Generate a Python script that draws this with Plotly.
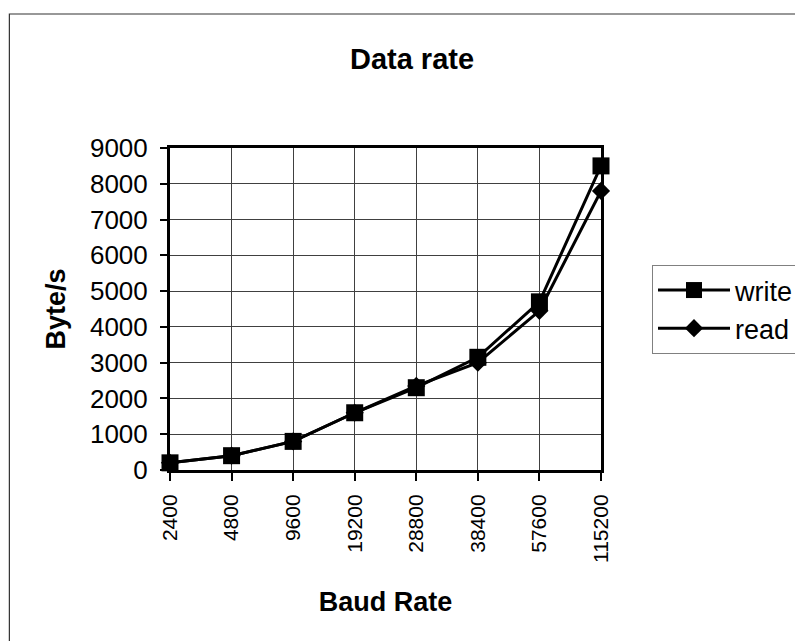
import plotly.graph_objects as go

baud_rates = ["2400", "4800", "9600", "19200", "28800", "38400", "57600", "115200"]
write_rate = [200, 400, 800, 1600, 2300, 3150, 4700, 8500]
read_rate = [200, 400, 800, 1600, 2350, 3000, 4450, 7800]
y_ticks = [0, 1000, 2000, 3000, 4000, 5000, 6000, 7000, 8000, 9000]

W, H = 803, 641
OFF = 8  # page body margin offset
L, R, T, B = 170 - OFF, 602 - OFF, 148 - OFF, 470 - OFF

def px_x(p):
    return (p - OFF - L) / (R - L)

def px_y(p):
    return (B - (p - OFF)) / (B - T)

font = "Liberation Sans, Arial, sans-serif"

fig = go.Figure()
fig.add_trace(go.Scatter(
    x=baud_rates, y=write_rate, name="write", mode="lines+markers",
    line=dict(color="black", width=3),
    marker=dict(symbol="square", size=17, color="black"),
    cliponaxis=False,
))
fig.add_trace(go.Scatter(
    x=baud_rates, y=read_rate, name="read", mode="lines+markers",
    line=dict(color="black", width=3),
    marker=dict(symbol="diamond", size=14, color="black"),
    cliponaxis=False,
))

fig.update_layout(
    width=W, height=H,
    margin=dict(l=L, r=W - R, t=T, b=H - B, pad=0),
    paper_bgcolor="white", plot_bgcolor="white",
    font=dict(family=font, color="black"),
    title=dict(text="<b>Data rate</b>", x=(412 - OFF) / W, y=1 - (59 - OFF) / H,
               xref="container", yref="container",
               xanchor="center", yanchor="middle",
               font=dict(size=29, family=font, color="black")),
    showlegend=True,
    legend=dict(x=px_x(652), y=px_y(265), xanchor="left", yanchor="top",
                bordercolor="#808080", borderwidth=1, bgcolor="white",
                itemwidth=72,
                font=dict(size=27, family=font, color="black")),
    xaxis=dict(
        type="category", range=[0, len(baud_rates) - 1],
        tickvals=baud_rates, ticktext=baud_rates,
        tickangle=-90, ticks="outside", ticklen=8, tickwidth=1.5, tickcolor="black",
        ticklabelstandoff=5,
        tickfont=dict(size=21, family=font),
        showgrid=True, gridcolor="#404040", gridwidth=1,
        showline=True, linecolor="black", linewidth=3, mirror=True,
        title=dict(text="<b>Baud Rate</b>", font=dict(size=27, family=font), standoff=31),
        zeroline=False,
    ),
    yaxis=dict(
        range=[0, 9000], tickvals=y_ticks, ticktext=[str(v) for v in y_ticks],
        ticks="outside", ticklen=7, tickwidth=1.5, tickcolor="black",
        ticklabelstandoff=7,
        tickfont=dict(size=26, family=font),
        showgrid=True, gridcolor="#404040", gridwidth=1,
        showline=True, linecolor="black", linewidth=3, mirror=True,
        title=dict(text="<b>Byte/s</b>", font=dict(size=27, family=font), standoff=17),
        zeroline=False,
    ),
)

# outer chart-area border (only top and left are visible in the reference)
fig.add_shape(type="rect", xref="paper", yref="paper",
              x0=px_x(9), y0=px_y(680), x1=px_x(840), y1=px_y(14),
              line=dict(color="#333333", width=1.2), fillcolor="rgba(0,0,0,0)", layer="below")

fig.write_html("out.html")
